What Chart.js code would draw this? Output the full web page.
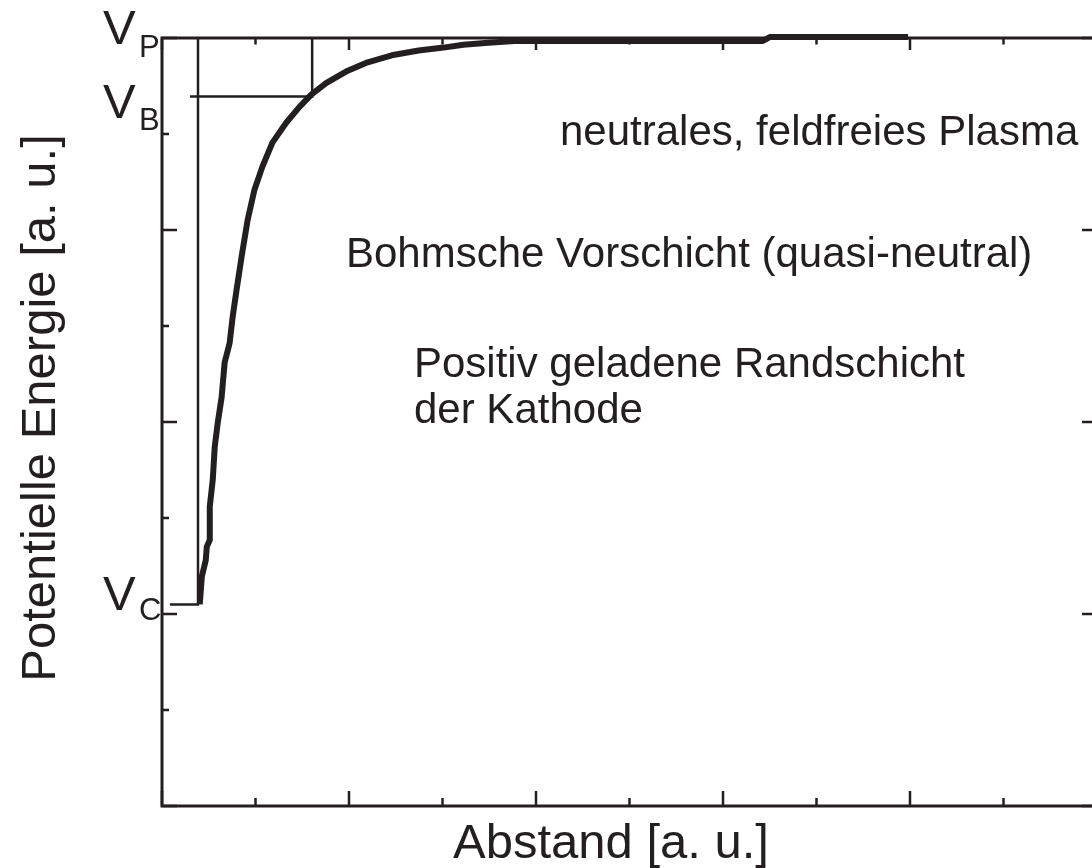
<!DOCTYPE html>
<html>
<head>
<meta charset="utf-8">
<script src="https://cdn.jsdelivr.net/npm/chart.js@4/dist/chart.umd.min.js"></script>
<style>
  html, body { margin: 0; padding: 0; background: #fff; overflow: hidden; }
  canvas { display: block; }
</style>
</head>
<body>
<canvas id="chart" width="1107" height="868"></canvas>
<script>
// Potential curve (x: Abstand, y: potentielle Energie, a. u.)
const curveX = [0.404, 0.426, 0.468, 0.479, 0.511, 0.511, 0.543, 0.564, 0.596, 0.638,
  0.670, 0.723, 0.755, 0.798, 0.851, 0.915, 0.989, 1.074, 1.181, 1.330,
  1.468, 1.596, 1.755, 1.968, 2.181, 2.457, 2.745, 3.011, 3.223, 3.489,
  3.809, 6.426, 6.500, 7.979]
const curveY = [2.10, 2.39, 2.56, 2.70, 2.77, 3.12, 3.40, 3.74, 3.99, 4.26,
  4.62, 4.82, 5.09, 5.38, 5.72, 6.10, 6.42, 6.66, 6.91, 7.12,
  7.28, 7.41, 7.53, 7.65, 7.74, 7.82, 7.87, 7.90, 7.93, 7.95,
  7.97, 7.97, 8.01, 8.01]

// Levels and marker positions
const vC = 2.1
const vB = 7.39
const vP = 8
const cathodeX = 0.385   // edge of the cathode sheath
const bohmX = 1.606      // Bohm point
const vcLineStart = 0.085
const vbLineStart = 0.30

// Axis ticks (no tick labels in the picture)
const xMajorTicks = [0, 2, 4, 6, 8, 10]
const xMinorTicks = [1, 3, 5, 7, 9]
const yMajorTicks = [0, 2, 4, 6, 8]
const yMinorTicks = [1, 3, 5, 7]

const INK = '#231f20'
const FONT = "'Liberation Sans', Arial, Helvetica, sans-serif"

const pts = (xs, ys) => xs.map((x, i) => ({ x, y: ys[i] }))

const refLine = (data) => ({
  data,
  borderColor: INK,
  borderWidth: 2.5,
  pointRadius: 0,
  tension: 0,
  clip: false
})

// Frame with inward ticks, drawn from the scales
const framePlugin = {
  id: 'frame',
  beforeDatasetsDraw(chart) {
    const { ctx, chartArea: a, scales: { x, y } } = chart
    ctx.save()
    ctx.strokeStyle = INK
    ctx.lineWidth = 3
    ctx.strokeRect(a.left, a.top, a.right - a.left, a.bottom - a.top)
    ctx.lineWidth = 2.5
    ctx.beginPath()
    const xt = (v, len) => {
      const px = x.getPixelForValue(v)
      ctx.moveTo(px, a.bottom); ctx.lineTo(px, a.bottom - len)
      ctx.moveTo(px, a.top); ctx.lineTo(px, a.top + len * 0.8)
    }
    const yt = (v, len, rightLen) => {
      const py = y.getPixelForValue(v)
      ctx.moveTo(a.left, py); ctx.lineTo(a.left + len, py)
      ctx.moveTo(a.right, py); ctx.lineTo(a.right - rightLen, py)
    }
    xMajorTicks.forEach(v => xt(v, 15))
    xMinorTicks.forEach(v => xt(v, 8))
    yMajorTicks.forEach(v => yt(v, 15, 15))
    yMinorTicks.forEach(v => yt(v, 7, 4))
    ctx.stroke()
    ctx.restore()
  },
  afterDraw(chart) {
    const { ctx, scales: { y } } = chart
    ctx.save()
    ctx.fillStyle = INK
    ctx.textBaseline = 'alphabetic'
    ctx.textAlign = 'left'

    // level labels V_P, V_B, V_C
    const level = (sub, v, dy, subDy) => {
      const py = y.getPixelForValue(v)
      ctx.font = `49px ${FONT}`
      ctx.fillText('V', 103, py + dy)
      ctx.font = `31px ${FONT}`
      ctx.fillText(sub, 139, py + subDy)
    }
    level('P', vP, 6, 19)
    level('B', vB, 21, 33)
    level('C', vC, 6, 16)

    // region annotations
    ctx.font = `42px ${FONT}`
    ctx.fillText('neutrales, feldfreies Plasma', 560, 145)
    ctx.fillText('Bohmsche Vorschicht (quasi-neutral)', 346, 267)
    ctx.fillText('Positiv geladene Randschicht', 414, 377)
    ctx.fillText('der Kathode', 414, 423)

    // axis titles
    ctx.font = `49px ${FONT}`
    ctx.fillText('Abstand [a. u.]', 453, 858)
    ctx.translate(55, 408)
    ctx.rotate(-Math.PI / 2)
    ctx.textAlign = 'center'
    ctx.fillText('Potentielle Energie [a. u.]', 0, 0)
    ctx.restore()
  }
}

new Chart(document.getElementById('chart'), {
  type: 'line',
  data: {
    datasets: [
      refLine([{ x: vcLineStart, y: vC }, { x: cathodeX, y: vC }, { x: cathodeX, y: vP }]),
      refLine([{ x: vbLineStart, y: vB }, { x: bohmX, y: vB }, { x: bohmX, y: vP }]),
      {
        data: pts(curveX, curveY),
        borderColor: INK,
        borderWidth: 6,
        borderJoinStyle: 'round',
        pointRadius: 0,
        tension: 0,
        clip: false
      }
    ]
  },
  options: {
    responsive: false,
    animation: false,
    layout: { padding: { left: 162, top: 38, right: 10, bottom: 62 } },
    plugins: { legend: { display: false }, tooltip: { enabled: false } },
    scales: {
      x: { type: 'linear', min: 0, max: 10, display: false },
      y: { type: 'linear', min: 0, max: 8, display: false }
    }
  },
  plugins: [framePlugin]
})
</script>
</body>
</html>
